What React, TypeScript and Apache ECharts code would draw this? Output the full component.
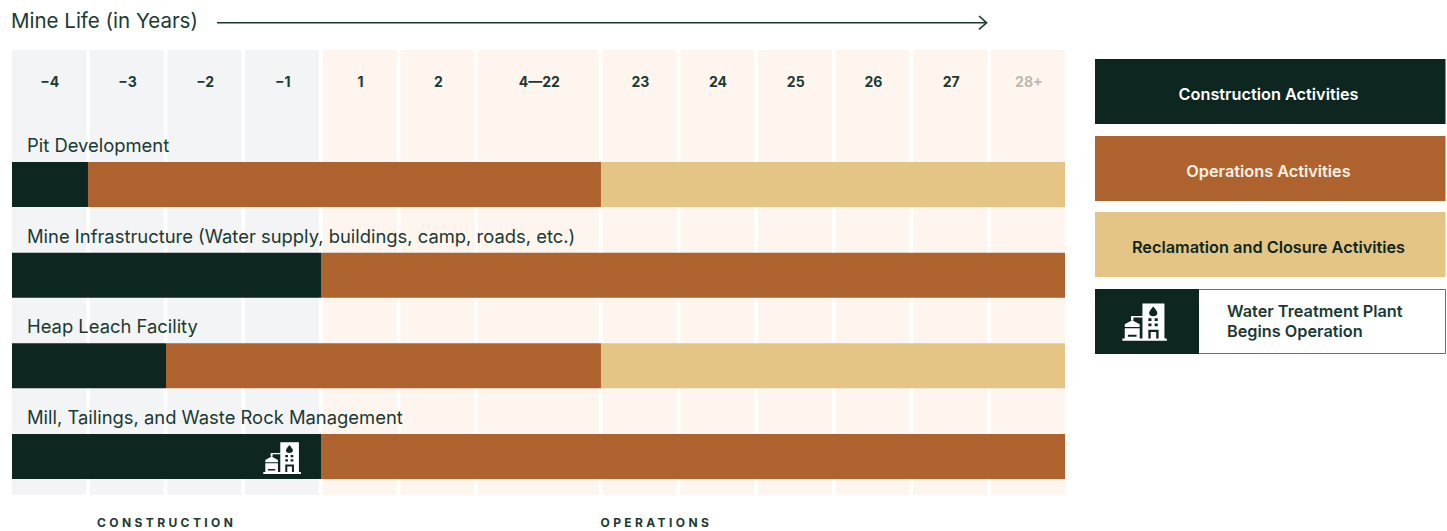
import React, { useEffect, useRef } from "react";
import * as echarts from "echarts";

const FONT = "Inter, 'Noto Sans', sans-serif";
const DARK = "#0d2620";
const BROWN = "#ae632f";
const TAN = "#e4c585";
const INK = "#1a3a32";

const yearLabels = ["−4", "−3", "−2", "−1", "1", "2", "4—22", "23", "24", "25", "26", "27", "28+"];
const yearSpans = [1, 1, 1, 1, 1, 1, 1.6, 1, 1, 1, 1, 1, 1];
const rowNames = [
  "Pit Development",
  "Mine Infrastructure (Water supply, buildings, camp, roads, etc.)",
  "Heap Leach Facility",
  "Mill, Tailings, and Waste Rock Management",
];
const constructionVals = [0.978, 3.977, 1.982, 3.977];
const operationsVals = [6.602, 9.575, 5.598, 9.575];
const closureVals = [5.972, 0, 5.972, 0];
const legendNames = ["Construction Activities", "Operations Activities", "Reclamation and Closure Activities"];
const phaseNames = ["CONSTRUCTION", "OPERATIONS"];

const ICON =
  "M0 95V89H51V36H28V43H22V32H51V0H107V89H113V95Z" +
  "M78.5 8C71 17 68 21 68 25C68 35 89 35 89 25C89 21 86 17 78.5 8Z" +
  "M66 38V45H74V38ZM82 38V45H90V38ZM66 51V58H74V51ZM82 51V58H90V51Z" +
  "M66 67V89H72V73H86V89H92V67Z" +
  "M6 89V53L25 43L44 53V89Z" +
  "M6 60V63H44V60ZM14 80V85H36V80Z";
echarts.graphic.registerShape("plantIcon", echarts.graphic.extendPath(ICON, {}) as any);

export default function App() {
  const ref = useRef<HTMLDivElement>(null);
  useEffect(() => {
    document.body.style.margin = "0";
    const chart = echarts.init(ref.current!, null, { renderer: "svg" });
    let start = 0;
    const columns = yearLabels.map((label, i) => {
      const c = { label, start, end: start + yearSpans[i] - 0.048, i };
      start += yearSpans[i];
      return c;
    });
    const xMax = start - 0.048;
    const barBase = {
      type: "bar" as const,
      stack: "life",
      barWidth: 45,
      xAxisIndex: 0,
      yAxisIndex: 0,
      z: 3,
      silent: true,
    };
    const legendItem = (y: number, fill: string, text: string, color: string) => [
      { type: "rect", shape: { x: 1095, y, width: 350.5, height: 65 }, style: { fill } },
      {
        type: "text",
        x: 1268.5,
        y: y + 34.5,
        style: { text, fill: color, font: `600 16.3px ${FONT}`, textAlign: "center", textVerticalAlign: "middle" },
      },
    ];
    chart.setOption({
      animation: false,
      grid: [
        { left: 12, width: 1053, top: 139.2, height: 362.67 },
        { left: 12, width: 1053, top: 50, height: 445 },
      ],
      xAxis: [
        { type: "value", gridIndex: 0, min: 0, max: xMax, show: false },
        { type: "value", gridIndex: 1, min: 0, max: xMax, show: false },
      ],
      yAxis: [
        {
          type: "category",
          gridIndex: 0,
          inverse: true,
          data: rowNames,
          z: 10,
          axisLine: { show: false },
          axisTick: { show: false },
          axisLabel: {
            inside: true,
            margin: 15,
            color: INK,
            fontFamily: FONT,
            fontSize: 18.4,
            fontWeight: 400,
            verticalAlign: "bottom",
            padding: [0, 0, 30.4, 0],
          },
        },
        { type: "value", gridIndex: 1, min: 0, max: 445, inverse: true, show: false },
      ],
      series: [
        {
          type: "custom",
          xAxisIndex: 1,
          yAxisIndex: 1,
          z: 1,
          silent: true,
          encode: { x: [0, 1] },
          data: columns.map((c) => [c.start, c.end, c.i]),
          renderItem: (_p: any, api: any) => {
            const x0 = api.value(0);
            const x1 = api.value(1);
            const i = api.value(2);
            const a = api.coord([x0, 0]);
            const b = api.coord([x1, 445]);
            const t = api.coord([(x0 + x1) / 2, 31]);
            return {
              type: "group",
              children: [
                {
                  type: "rect",
                  shape: { x: a[0], y: a[1], width: b[0] - a[0], height: b[1] - a[1] },
                  style: { fill: i < 4 ? "#f3f4f6" : "#fef5ef" },
                },
                {
                  type: "text",
                  x: t[0] + 0.8,
                  y: t[1],
                  style: {
                    text: yearLabels[i],
                    fill: i === 12 ? "#b9bab3" : INK,
                    font: `700 14px ${FONT}`,
                    textAlign: "center",
                    textVerticalAlign: "middle",
                  },
                },
              ],
            };
          },
        },
        { ...barBase, name: "Construction", data: constructionVals, itemStyle: { color: DARK } },
        { ...barBase, name: "Operations", data: operationsVals, itemStyle: { color: BROWN } },
        { ...barBase, name: "Closure", data: closureVals, itemStyle: { color: TAN } },
      ],
      graphic: [
        {
          type: "text",
          x: 11,
          y: 20.5,
          style: { text: "Mine Life (in Years)", fill: INK, font: `400 20.5px ${FONT}`, textVerticalAlign: "middle" },
        },
        { type: "line", shape: { x1: 217, y1: 22.8, x2: 986, y2: 22.8 }, style: { stroke: INK, lineWidth: 1.6 } },
        {
          type: "polyline",
          shape: { points: [[979, 16], [986.6, 22.8], [979, 29.4]] },
          style: { stroke: INK, lineWidth: 1.6, fill: "none" },
        },
        ...legendItem(59, DARK, legendNames[0], "#ffffff"),
        ...legendItem(136, BROWN, legendNames[1], "#fdf0e4"),
        ...legendItem(212, TAN, legendNames[2], DARK),
        {
          type: "rect",
          shape: { x: 1095.5, y: 289.5, width: 350, height: 64 },
          style: { fill: "#ffffff", stroke: "#5f7770", lineWidth: 1 },
        },
        { type: "rect", shape: { x: 1095, y: 289, width: 104, height: 65 }, style: { fill: DARK } },
        { type: "plantIcon", x: 1122.4, y: 303.4, scaleX: 0.393, scaleY: 0.393, style: { fill: "#ffffff" } },
        { type: "plantIcon", x: 263.3, y: 442.3, scaleX: 0.333, scaleY: 0.333, z: 20, style: { fill: "#ffffff" } },
        {
          type: "text",
          x: 1227,
          y: 321,
          style: {
            text: "Water Treatment Plant\nBegins Operation",
            fill: INK,
            font: `600 16.3px ${FONT}`,
            lineHeight: 20.5,
            textVerticalAlign: "middle",
          },
        },
        {
          type: "text",
          x: 97,
          y: 522,
          style: { text: phaseNames[0], fill: INK, font: `700 12px ${FONT}`, textVerticalAlign: "middle" },
        },
        {
          type: "text",
          x: 600.5,
          y: 522,
          style: { text: phaseNames[1], fill: INK, font: `700 12px ${FONT}`, textVerticalAlign: "middle" },
        },
      ],
    });
    ref.current!.querySelectorAll("text").forEach((t) => {
      if (phaseNames.includes(t.textContent || "")) (t as any).style.letterSpacing = "3.4px";
    });
    return () => chart.dispose();
  }, []);
  return <div ref={ref} style={{ width: 1447, height: 531 }} />;
}
